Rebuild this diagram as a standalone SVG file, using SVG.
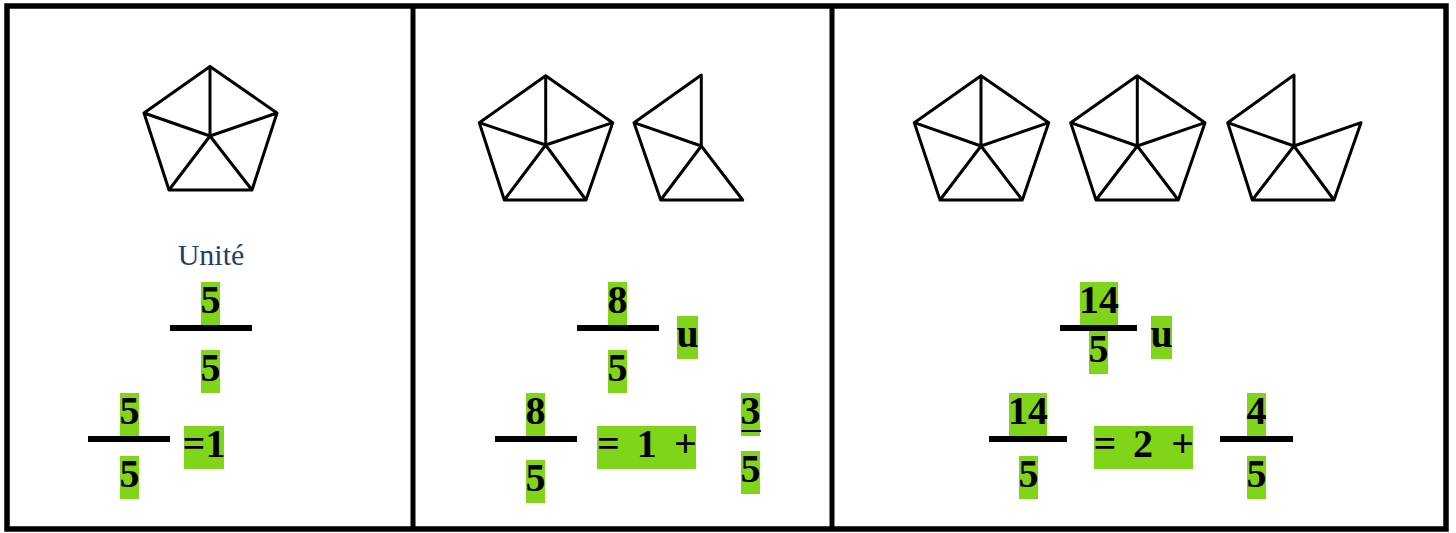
<svg xmlns="http://www.w3.org/2000/svg" width="1456" height="533" viewBox="0 0 1456 533">
<style>
.frame{fill:none;stroke:#000;stroke-width:5.5}
.div{stroke:#000;stroke-width:5}
.shape{fill:none;stroke:#000;stroke-width:3;stroke-linejoin:round;stroke-linecap:round}
.hl{fill:#80D41A}
.bar{fill:#000}
.d{font-family:"Liberation Serif","Times New Roman",serif;font-weight:bold;font-size:40px;fill:#000;text-anchor:middle}
.lab{font-family:"Liberation Serif","Times New Roman",serif;font-size:30px;fill:#1F3F6E;text-anchor:middle}
</style>
<rect width="1456" height="533" fill="#fff"/>
<g id="frame">
<rect class="frame" x="7" y="6" width="1439" height="523"/>
<line class="div" x1="413" y1="6" x2="413" y2="529"/>
<line class="div" x1="832" y1="6" x2="832" y2="529"/>
</g>
<g id="panel1-shape">
<path class="shape" d="M210,66.5 L277,113 L252,190 L169,190 L144,113 Z M210,66.5 L210,136 M144,113 L210,136 L277,113 M169,190 L210,136 L252,190"/>
</g>
<g id="panel1-label"><text class="lab" x="211" y="265">Unité</text></g>
<g id="panel1-frac1">
<rect class="hl" x="201" y="282" width="19" height="43"/>
<text class="d" x="210.5" y="313">5</text>
<rect class="bar" x="170" y="325" width="82" height="6"/>
<rect class="hl" x="201" y="350" width="19" height="43"/>
<text class="d" x="210.5" y="381">5</text>
</g>
<g id="panel1-frac2">
<rect class="hl" x="120" y="393" width="19" height="43"/>
<text class="d" x="129.5" y="424">5</text>
<rect class="bar" x="88" y="436" width="82" height="6"/>
<rect class="hl" x="120" y="456" width="19" height="43"/>
<text class="d" x="129.5" y="487">5</text>
<rect class="hl" x="184" y="426" width="40" height="43"/>
<text class="d" x="204" y="457">=1</text>
</g>
<g id="panel2-shapes">
<path class="shape" d="M545.7,75.7 L612.7,122.7 L586,200 L504.3,200 L479.3,122.7 Z M545.7,75.7 L545.7,145 M479.3,122.7 L545.7,145 L612.7,122.7 M504.3,200 L545.7,145 L586,200"/>
<path class="shape" d="M701.3,75 L634,122.7 L660.7,200 L742.7,200 L701.3,146 Z M634,122.7 L701.3,146 L660.7,200"/>
</g>
<g id="panel2-frac1">
<rect class="hl" x="608" y="282" width="19" height="43"/>
<text class="d" x="617.5" y="313">8</text>
<rect class="bar" x="577" y="325" width="82" height="6"/>
<rect class="hl" x="608" y="350" width="19" height="43"/>
<text class="d" x="617.5" y="381">5</text>
<rect class="hl" x="677" y="316" width="21" height="43"/>
<text class="d" x="687.5" y="347">u</text>
</g>
<g id="panel2-frac2">
<rect class="hl" x="526" y="393" width="19" height="43"/>
<text class="d" x="535.5" y="424">8</text>
<rect class="bar" x="495" y="436" width="82" height="6"/>
<rect class="hl" x="526" y="460" width="19" height="43"/>
<text class="d" x="535.5" y="491">5</text>
<rect class="hl" x="597" y="426" width="99" height="43"/>
<text class="d" x="608.3" y="457">=</text>
<text class="d" x="646.7" y="457">1</text>
<text class="d" x="685.5" y="457">+</text>
<rect class="hl" x="741" y="393" width="19" height="43"/>
<text class="d" x="750.5" y="424">3</text>
<rect class="bar" x="741.5" y="430" width="19.5" height="2"/>
<rect class="hl" x="741" y="451" width="19" height="43"/>
<text class="d" x="750.5" y="482">5</text>
</g>
<g id="panel3-shapes">
<path class="shape" d="M981,75.7 L1048.7,122.7 L1022.3,200 L940,200 L914.3,122.7 Z M981,75.7 L981,146 M914.3,122.7 L981,146 L1048.7,122.7 M940,200 L981,146 L1022.3,200"/>
<path class="shape" d="M1137.3,75.7 L1205,122.7 L1178.3,200 L1096,200 L1070.7,122.7 Z M1137.3,75.7 L1137.3,146 M1070.7,122.7 L1137.3,146 L1205,122.7 M1096,200 L1137.3,146 L1178.3,200"/>
<path class="shape" d="M1294,75 L1227.7,122.7 L1252.3,200 L1334,200 L1361,122.7 L1294,146 Z M1227.7,122.7 L1294,146 L1252.3,200 M1294,146 L1334,200"/>
</g>
<g id="panel3-frac1">
<rect class="hl" x="1080" y="282" width="38" height="43"/>
<text class="d" x="1099" y="313">14</text>
<rect class="bar" x="1060" y="325" width="77" height="6"/>
<rect class="hl" x="1089" y="331" width="19" height="43"/>
<text class="d" x="1098.5" y="362">5</text>
<rect class="hl" x="1151" y="316" width="21" height="43"/>
<text class="d" x="1161.5" y="347">u</text>
</g>
<g id="panel3-frac2">
<rect class="hl" x="1009" y="393" width="38" height="43"/>
<text class="d" x="1028" y="424">14</text>
<rect class="bar" x="989" y="436" width="78" height="6"/>
<rect class="hl" x="1019" y="456" width="19" height="43"/>
<text class="d" x="1028.5" y="487">5</text>
<rect class="hl" x="1094" y="426" width="99" height="43"/>
<text class="d" x="1105" y="457">=</text>
<text class="d" x="1143" y="457">2</text>
<text class="d" x="1182.7" y="457">+</text>
<rect class="hl" x="1247" y="393" width="19" height="43"/>
<text class="d" x="1256.5" y="424">4</text>
<rect class="bar" x="1220" y="436" width="73" height="6"/>
<rect class="hl" x="1247" y="456" width="19" height="43"/>
<text class="d" x="1256.5" y="487">5</text>
</g>
</svg>
